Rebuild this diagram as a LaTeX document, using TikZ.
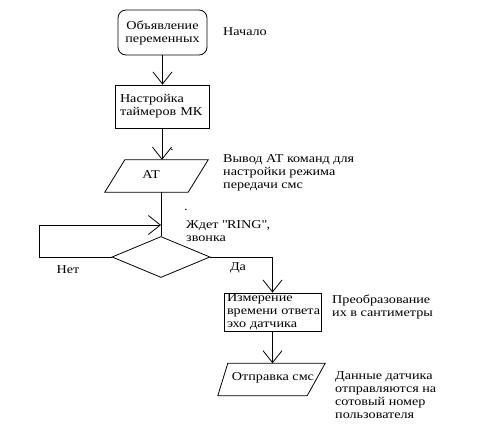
\documentclass[tikz,border=0pt]{standalone}
\usepackage{fontspec}
\setmainfont[FakeStretch=1.18]{Liberation Serif}
\usetikzlibrary{shapes.geometric,arrows.meta}
\newcommand\straightdq{\XeTeXglyph\XeTeXcharglyph"22\relax}
\begin{document}
\begin{tikzpicture}[x=1pt,y=-1pt,
  every node/.style={font=\fontsize{12}{13}\selectfont, inner sep=0pt},
  line/.style={draw, line width=0.8pt},
  arr/.style={line, -{Straight Barb[length=12pt,width=19pt,line width=0.8pt]}},
  procbox/.style={draw, line width=0.8pt, rectangle},
  note/.style={anchor=north west, align=left},
  iobox/.style={minimum width=#1, minimum height=32pt, draw=none}
]
\useasboundingbox (0,0) rectangle (482,442);
% nodes
\node[procbox, rounded corners=8pt, minimum width=89pt, minimum height=45pt, align=center] (b1) at (162.5,32.5) {Объявление\\переменных};
\node[procbox, minimum width=90pt, minimum height=43pt, text width=84pt, inner xsep=5pt, align=left] (b2) at (162,106.5) {Настройка\\таймеров МК};
\node[iobox=103pt] (p1) at (156.5,176) {};
\node (p1t) at (151,175) {AT};
\node[diamond, draw, line width=0.8pt, minimum width=98pt, minimum height=41pt, inner sep=0pt] (d) at (161,257) {};
\node[procbox, minimum width=97pt, minimum height=38pt, text width=91pt, inner xsep=3pt, align=left] (b3) at (272.5,312) {Измерение\\времени~ответа\\эхо датчика};
\node[iobox=107pt] (p2) at (271.5,379.5) {};
\node (p2t) at (273,378) {Отправка смс};
% parallelograms
\draw[line] ([xshift=20pt]p1.north west) -- (p1.north east) -- ([xshift=-20pt]p1.south east) -- (p1.south west) -- cycle;
\draw[line] ([xshift=10pt]p2.north west) -- (p2.north east) -- ([xshift=-18pt]p2.south east) -- (p2.south west) -- cycle;
% notes
\node[anchor=west] (n1) at (223,32) {Начало};
\node[note] (n2) at (223,154) {Вывод AT команд для\\настройки режима\\передачи смс};
\node[note] (n3) at (186,220) {Ждет \straightdq RING\straightdq,\\звонка};
\node (n4) at (68,270) {Нет};
\node (n5) at (238,268) {Да};
\node[note] (n6) at (332,295) {Преобразование\\их в сантиметры};
\node[note] (n7) at (335,371) {Данные датчика\\отправляются на\\сотовый номер\\пользователя};
\node (dot1) at (172,150) {.};
\node (dot2) at (186,210) {.};
% coordinates
\coordinate (j) at (161,225);
\coordinate (loopL) at (39,257);
% connectors
\draw[arr] (b1.south) -- (b1.south |- b2.north);
\draw[arr] (b2.south) -- (b2.south |- p1.north);
\draw[line] (d.north |- p1.south) -- (d.north);
\draw[arr] (d.west) -- (loopL) |- (j);
\draw[arr] (d.east) -| (b3.north);
\draw[arr] (b3.south) -- (b3.south |- p2.north);
\end{tikzpicture}
\end{document}
